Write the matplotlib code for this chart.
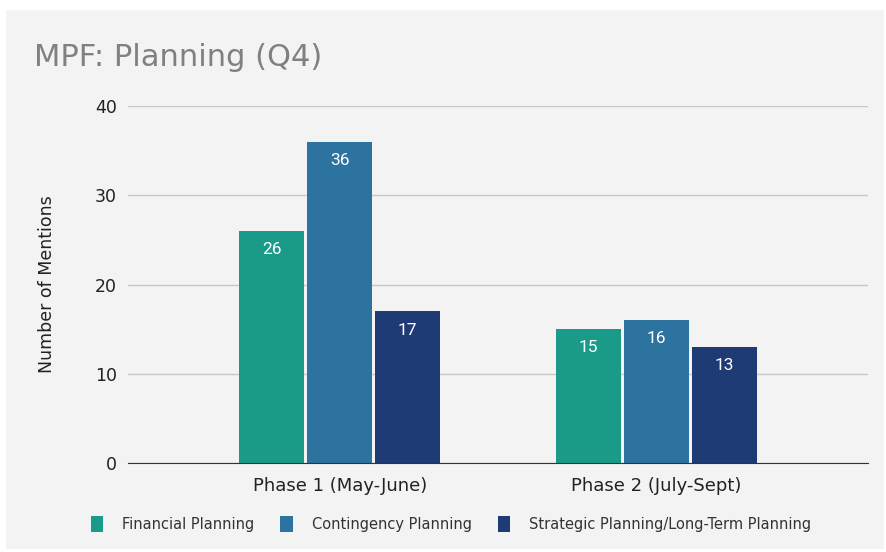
import numpy as np
import matplotlib.pyplot as plt

plt.rcParams['font.family'] = ['DejaVu Sans']

# data
phases = ['Phase 1 (May-June)', 'Phase 2 (July-Sept)']
series_names = ['Financial Planning', 'Contingency Planning',
                'Strategic Planning/Long-Term Planning']
financial = [26, 15]
contingency = [36, 16]
strategic = [17, 13]
colors = ['#1a9a88', '#2d73a0', '#1f3b75']

bg = '#f3f3f3'
fig = plt.figure(figsize=(8.87, 5.52), dpi=100, facecolor='white')
# gray panel
fig.patches.append(plt.Rectangle((6 / 887, 3 / 552), 878 / 887, 539 / 552,
                                 transform=fig.transFigure, facecolor=bg,
                                 edgecolor='none', zorder=-1))
ax = fig.add_axes([128 / 887, 1 - 463 / 552, 740 / 887, 357 / 552])
ax.set_facecolor(bg)

x = np.arange(len(phases))
w = 0.205
step = 0.2145
for i, (vals, name) in enumerate(zip([financial, contingency, strategic], series_names)):
    bars = ax.bar(x + (i - 1) * step, vals, w, color=colors[i], label=name, zorder=3)
    for b, v in zip(bars, vals):
        ax.text(b.get_x() + b.get_width() / 2, v - 2.1, str(v), ha='center', va='center',
                color='white', fontsize=12.5, family=['Roboto', 'DejaVu Sans'], zorder=4)

ax.set_xlim(-0.668, 1.667)
ax.set_ylim(0, 40)
ax.set_yticks([0, 10, 20, 30, 40])
ax.set_xticks(x)
ax.set_xticklabels(phases, fontsize=13, color='#222222')
ax.tick_params(axis='y', labelsize=12.5, colors='#222222', length=0, pad=8)
ax.tick_params(axis='x', length=0, pad=10)
ax.grid(axis='y', color='#c8c8c8', linewidth=1, zorder=0)
for s in ['top', 'right', 'left']:
    ax.spines[s].set_visible(False)
ax.spines['bottom'].set_color('#333333')
ax.spines['bottom'].set_zorder(5)
ax.set_ylabel('Number of Mentions', fontsize=12.5, color='#222222', labelpad=28)

fig.text(34 / 887, 1 - 58 / 552, 'MPF: Planning (Q4)', fontsize=22, color='#808080',
         va='center', ha='left')

fig.legend(loc='center', bbox_to_anchor=(451 / 887, 1 - 524 / 552), ncol=3,
           frameon=False, fontsize=10.5, handlelength=0.85, handleheight=1.4,
           columnspacing=1.8, handletextpad=1.3, labelcolor='#333333')

fig.savefig('out.png', dpi=100, facecolor='white')
